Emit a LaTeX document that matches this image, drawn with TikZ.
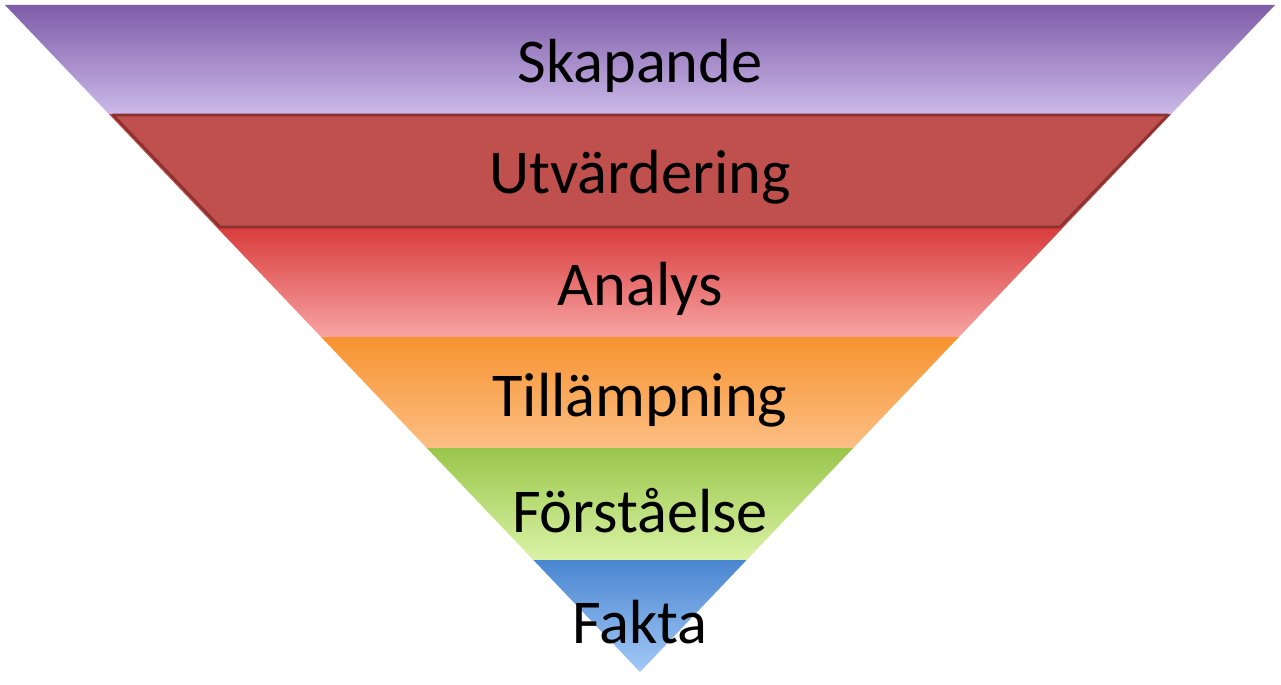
\documentclass[tikz,border=0pt]{standalone}
\usepackage{fontspec}
\setmainfont{Carlito}
\usetikzlibrary{positioning}
\definecolor{lilaT}{HTML}{7E5CA8}\definecolor{lilaB}{HTML}{CDBBEA}
\definecolor{rodT}{HTML}{C0504D}\definecolor{rodB}{HTML}{C0504D}
\definecolor{ljusT}{HTML}{D83C3C}\definecolor{ljusB}{HTML}{F8A4A4}
\definecolor{orT}{HTML}{F79330}\definecolor{orB}{HTML}{FBBF85}
\definecolor{grT}{HTML}{9AC64C}\definecolor{grB}{HTML}{DAF3A6}
\definecolor{blT}{HTML}{4A86D0}\definecolor{blB}{HTML}{A2C8F7}
\definecolor{kant}{HTML}{8C3331}
\begin{document}
\begin{tikzpicture}[x=0.02cm, y=-0.02cm,
	label/.style={font=\fontsize{35.5}{40}\selectfont, text=black}]
	\useasboundingbox (0,0) rectangle (1281,685);
	\coordinate (TL) at (5,5);
	\coordinate (TR) at (1275,5);
	\coordinate (APEX) at (640,672);
	
	\begin{scope}
		\clip (TL) -- (TR) -- (APEX) -- cycle;
		\foreach \name/\ctop/\cbot/\ytop in {skap/lilaT/lilaB/5, utv/rodT/rodB/115, anal/ljusT/ljusB/227, till/orT/orB/338, forst/grT/grB/449, fakta/blT/blB/560}
		{
			\shade[top color=\ctop, bottom color=\cbot] (0,\ytop) rectangle (1281,\ytop+111);
		}
	\end{scope}
	
	% kanten runt andra bandet
	\draw[kant, line width=1.5pt, line join=round] (113,115) -- (1168,115) -- (1060,227) -- (220,227) -- cycle;
	
	\node[label] (SKAP) at (640,66) {Skapande};
	\node[label] (UTV) at (640,177) {Utvärdering};
	\node[label] (ANAL) at (640,289) {Analys};
	\node[label] (TILL) at (640,400) {Tillämpning};
	\node[label] (FORST) at (640,511) {Förståelse};
	\node[label] (FAKTA) at (640,622) {Fakta};
\end{tikzpicture}
\end{document}
